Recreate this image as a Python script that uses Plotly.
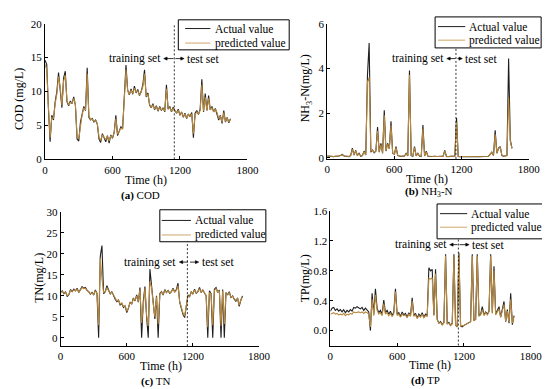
import plotly.graph_objects as go

W, H = 550, 389

hours = list(range(0, 1651, 15))
SPLIT_HOUR = 1150

cod_actual = [
    14.6, 14.0, 7.5, 2.6, 6.5, 5.8, 8.5, 10.0, 12.8, 10.5,
    7.6, 12.0, 13.0, 8.5, 7.9, 8.6, 8.2, 9.2, 8.0, 3.0,
    2.7, 5.5, 6.8, 7.8, 7.2, 13.5, 6.2, 5.8, 6.0, 5.5,
    5.8, 5.2, 3.0, 2.5, 3.8, 3.2, 2.6, 3.5, 2.4, 3.6,
    3.1, 4.0, 6.5, 3.5, 4.2, 4.8, 4.5, 10.0, 13.9, 10.2,
    9.5, 10.4, 9.6, 10.8, 9.8, 10.3, 9.4, 10.0, 11.0, 13.2,
    9.2, 9.8, 8.0, 7.6, 8.2, 7.3, 7.9, 7.1, 7.8, 7.2,
    7.6, 7.0, 11.0, 7.4, 7.8, 7.0, 7.7, 7.2, 6.8, 7.4,
    6.5, 7.0, 6.2, 6.8, 6.0, 6.7, 6.3, 6.9, 3.2, 6.8,
    7.2, 6.6, 7.4, 11.8, 7.0, 9.7, 7.2, 9.4, 7.3, 7.8,
    7.0, 7.5, 6.8, 5.8, 6.5, 5.3, 7.2, 5.5, 6.2, 5.4,
    6.0,
]
cod_pred = [
    14.0, 13.2, 7.8, 3.2, 6.2, 6.0, 8.2, 9.6, 12.2, 10.6,
    8.0, 11.5, 12.4, 8.7, 8.0, 8.4, 8.3, 9.0, 8.1, 3.4,
    3.0, 5.3, 6.6, 7.6, 7.3, 12.6, 6.4, 5.9, 5.9, 5.6,
    5.7, 5.3, 3.3, 2.8, 3.6, 3.3, 2.9, 3.4, 2.7, 3.5,
    3.2, 3.9, 6.0, 3.7, 4.1, 4.6, 4.5, 9.5, 13.2, 10.1,
    9.6, 10.2, 9.7, 10.5, 9.9, 10.1, 9.5, 9.9, 10.7, 12.6,
    9.3, 9.6, 8.1, 7.7, 8.0, 7.4, 7.8, 7.2, 7.6, 7.3,
    7.5, 7.1, 10.4, 7.5, 7.6, 7.1, 7.5, 7.2, 6.9, 7.2,
    6.6, 6.9, 6.3, 6.7, 6.1, 6.6, 6.3, 6.7, 3.8, 6.6,
    7.0, 6.7, 7.2, 11.0, 7.1, 9.2, 7.2, 9.0, 7.3, 7.6,
    7.0, 7.4, 6.9, 6.0, 6.4, 5.5, 6.9, 5.6, 6.1, 5.5,
    5.9,
]

nh3_actual = [
    0.08, 0.07, 0.06, 0.07, 0.05, 0.07, 0.06, 0.08, 0.10, 0.15,
    0.08, 0.06, 0.07, 0.05, 0.10, 0.43, 0.12, 0.33, 0.10, 0.20,
    0.07, 0.10, 0.30, 0.12, 3.69, 5.13, 0.25, 0.35, 0.22, 0.30,
    1.37, 0.25, 0.65, 0.20, 2.13, 0.30, 0.65, 0.40, 1.63, 0.20,
    0.15, 0.50, 0.10, 0.07, 0.06, 0.08, 0.07, 0.20, 0.08, 3.90,
    0.10, 0.07, 0.50, 0.08, 0.20, 0.07, 0.06, 1.47, 0.08, 0.29,
    0.07, 0.06, 0.05, 0.06, 0.07, 0.05, 0.06, 0.07, 0.06, 0.07,
    0.33, 0.06, 0.05, 0.06, 0.05, 0.06, 0.08, 1.78, 0.06, 0.05,
    0.06, 0.05, 0.06, 0.05, 0.06, 0.05, 0.06, 0.05, 0.06, 0.05,
    0.06, 0.05, 0.06, 0.07, 0.06, 0.08, 0.07, 0.15, 0.25, 0.10,
    1.23, 0.20, 0.43, 0.50, 0.10, 0.07, 0.08, 0.10, 4.44, 0.80,
    0.43,
]
nh3_pred = [
    0.08, 0.07, 0.07, 0.07, 0.06, 0.07, 0.07, 0.08, 0.10, 0.13,
    0.08, 0.07, 0.07, 0.06, 0.10, 0.38, 0.13, 0.30, 0.11, 0.18,
    0.08, 0.10, 0.27, 0.13, 3.40, 3.60, 0.30, 0.33, 0.24, 0.28,
    1.20, 0.27, 0.58, 0.22, 1.90, 0.32, 0.60, 0.40, 1.45, 0.22,
    0.16, 0.45, 0.11, 0.08, 0.07, 0.08, 0.07, 0.18, 0.09, 3.70,
    0.12, 0.08, 0.45, 0.09, 0.19, 0.08, 0.07, 1.30, 0.09, 0.26,
    0.07, 0.07, 0.06, 0.06, 0.07, 0.06, 0.06, 0.07, 0.06, 0.07,
    0.30, 0.07, 0.06, 0.06, 0.06, 0.06, 0.08, 1.60, 0.07, 0.06,
    0.06, 0.06, 0.06, 0.06, 0.06, 0.06, 0.06, 0.06, 0.06, 0.06,
    0.06, 0.06, 0.06, 0.07, 0.06, 0.08, 0.07, 0.14, 0.27, 0.11,
    1.05, 0.22, 0.40, 0.48, 0.12, 0.08, 0.08, 0.10, 2.70, 0.75,
    0.40,
]

tn_actual = [
    10.8, 11.2, 10.5, 11.0, 9.8, 10.3, 11.5, 11.0, 11.6, 11.2,
    11.8, 10.8, 11.5, 12.2, 11.8, 12.0, 11.3, 11.0, 10.4, 10.8,
    10.2, 11.4, 10.6, 0.0, 19.5, 22.0, 10.5, 11.0, 12.4, 11.2,
    10.4, 11.0, 10.0, 9.2, 8.6, 9.0, 7.8, 8.2, 7.2, 7.6,
    6.0, 7.0, 8.5, 8.0, 9.5, 8.8, 10.2, 8.5, 12.0, 0.0,
    8.7, 12.2, 5.0, 0.0, 16.4, 12.5, 8.0, 4.5, 10.0, 0.0,
    10.5, 11.0, 10.2, 11.5, 10.8, 11.3, 10.6, 11.0, 11.8, 10.9,
    11.5, 13.0, 8.5, 7.0, 5.6, 4.8, 8.0, 10.2, 9.8, 11.0,
    10.4, 11.6, 10.6, 11.0, 12.0, 10.8, 11.4, 10.6, 10.0, 0.0,
    11.2, 10.5, 0.0, 11.6, 12.0, 10.8, 11.4, 0.0, 11.5, 0.0,
    10.8, 10.2, 11.0, 9.6, 10.0, 9.2, 8.7, 9.5, 7.5, 9.0,
    10.0,
]
tn_pred = [
    10.9, 11.0, 10.6, 10.9, 10.0, 10.4, 11.3, 11.0, 11.4, 11.2,
    11.6, 10.9, 11.4, 12.0, 11.7, 11.8, 11.3, 11.0, 10.5, 10.7,
    10.3, 11.2, 10.6, 3.0, 19.0, 14.0, 10.8, 11.0, 12.0, 11.2,
    10.5, 10.9, 10.1, 9.3, 8.8, 9.0, 8.0, 8.3, 7.4, 7.7,
    6.3, 7.1, 8.4, 8.1, 9.3, 8.9, 10.0, 8.6, 11.5, 3.5,
    8.8, 11.8, 5.4, 2.8, 13.5, 12.0, 8.2, 5.0, 9.8, 3.2,
    10.3, 10.9, 10.3, 11.3, 10.8, 11.2, 10.7, 11.0, 11.6, 10.9,
    11.3, 12.4, 8.7, 7.2, 5.9, 5.2, 8.2, 10.0, 9.9, 10.9,
    10.5, 11.4, 10.7, 11.0, 11.7, 10.9, 11.3, 10.7, 10.1, 2.5,
    10.8, 10.5, 3.0, 11.3, 11.7, 10.9, 11.2, 2.8, 11.2, 3.3,
    10.6, 10.3, 10.8, 9.7, 9.9, 9.3, 8.9, 9.4, 7.8, 9.0,
    9.8,
]

tp_actual = [
    0.26, 0.30, 0.31, 0.27, 0.29, 0.26, 0.28, 0.25, 0.28, 0.24,
    0.27, 0.25, 0.28, 0.26, 0.31, 0.30, 0.32, 0.31, 0.29, 0.31,
    0.27, 0.30, 0.28, 0.25, 0.00, 0.50, 0.22, 0.56, 0.30, 0.24,
    0.27, 0.22, 0.41, 0.24, 0.27, 0.22, 0.26, 0.20, 0.25, 0.56,
    0.22, 0.24, 0.19, 0.25, 0.21, 0.23, 0.18, 0.24, 0.20, 0.44,
    0.20, 0.23, 0.17, 0.22, 0.19, 0.24, 0.18, 0.22, 0.20, 0.84,
    0.80, 0.82, 0.21, 0.82, 0.15, 0.10, 0.12, 0.08, 0.11, 1.02,
    0.09, 0.11, 0.07, 0.10, 1.02, 0.07, 0.05, 1.04, 0.06, 0.05,
    0.07, 0.08, 0.09, 0.11, 0.12, 1.02, 0.14, 0.15, 1.02, 0.20,
    0.22, 0.32, 0.21, 0.25, 0.22, 0.26, 1.02, 0.24, 0.86, 0.22,
    0.28, 0.32, 0.18, 0.30, 0.39, 0.12, 0.28, 0.10, 0.50, 0.08,
    0.20,
]
tp_pred = [
    0.22, 0.23, 0.24, 0.22, 0.23, 0.21, 0.22, 0.21, 0.23, 0.20,
    0.22, 0.21, 0.23, 0.22, 0.25, 0.24, 0.25, 0.25, 0.24, 0.25,
    0.23, 0.25, 0.24, 0.22, 0.05, 0.42, 0.20, 0.48, 0.27, 0.22,
    0.24, 0.20, 0.36, 0.22, 0.24, 0.20, 0.23, 0.19, 0.22, 0.52,
    0.20, 0.22, 0.18, 0.22, 0.20, 0.21, 0.17, 0.22, 0.19, 0.40,
    0.19, 0.21, 0.16, 0.20, 0.18, 0.22, 0.17, 0.20, 0.19, 0.70,
    0.69, 0.71, 0.20, 0.76, 0.14, 0.10, 0.11, 0.08, 0.10, 1.00,
    0.09, 0.10, 0.07, 0.09, 1.00, 0.07, 0.05, 1.02, 0.06, 0.06,
    0.07, 0.08, 0.09, 0.10, 0.12, 1.00, 0.13, 0.15, 1.00, 0.19,
    0.21, 0.28, 0.20, 0.24, 0.21, 0.25, 1.00, 0.23, 0.80, 0.21,
    0.26, 0.29, 0.18, 0.27, 0.35, 0.13, 0.26, 0.11, 0.42, 0.10,
    0.19,
]

x_ticks = [0, 600, 1200, 1800]
legend_names = ["Actual value", "predicted value"]

# ---------------- style ----------------
FONT = "Liberation Serif"
C_ACT = "#1e1e1e"
C_PRED = "#b8893f"
C_PRED_LEGEND = "#cfa66a"
LW = 1.1


def px(x):
    return x / W


def py(y):
    return 1 - y / H


panels = [
    dict(x0=35, x1=243, yb=150, yt=10, yr=[0, 20], yt_vals=[0, 5, 10, 15, 20], fmt="d",
         act=cod_actual, pred=cod_pred,
         ytitle="COD (mg/L)", ytx=9, yty=88,
         xtx=139, xty=171, cap="<b>(a)</b> COD", capx=133, capy=187,
         leg=(172, 286, 6, 37, 179, 205, 208, 15, 30),
         split=(156, 168, 179, 46)),
    dict(x0=325, x1=532.3, yb=149.5, yt=10, yr=[-0.05, 6], yt_vals=[0, 2, 4, 6], fmt="d",
         act=nh3_actual, pred=nh3_pred,
         ytitle="NH<sub>3</sub>-N(mg/L)", ytx=303, yty=77,
         xtx=428, xty=170, cap="<b>(b)</b> NH<sub>3</sub>-N", capx=430, capy=184,
         leg=(436, 545, 3, 35, 439, 467, 469, 13, 27),
         split=(447, 458, 465, 46)),
    dict(x0=51, x1=255, yb=342.7, yt=204.3, yr=[-2, 30], yt_vals=[0, 5, 10, 15, 20, 25, 30], fmt="d",
         act=tn_actual, pred=tn_pred,
         ytitle="TN(mg/L)", ytx=28, yty=272,
         xtx=154, xty=363, cap="<b>(c)</b> TN", capx=149, capy=379,
         leg=(153, 262, 202, 235, 155, 185, 187, 213, 228),
         split=(172, 183, 194, 256)),
    dict(x0=328.3, x1=534.3, yb=342.1, yt=203.3, yr=[-0.2, 1.6], yt_vals=[0, 0.4, 0.8, 1.2, 1.6], fmt=".1f",
         act=tp_actual, pred=tp_pred,
         ytitle="TP(mg/L)", ytx=302, yty=273,
         xtx=431, xty=362, cap="<b>(d)</b> TP", capx=426, capy=378,
         leg=(438, 547, 196, 232, 441, 469, 471, 206, 220),
         split=(450, 460, 472, 238)),
]

fig = go.Figure()
shapes = []
annotations = []
layout_axes = {}


def arrow(shapes, tail_x, tip_x, y):
    """small horizontal arrow in pixel coordinates"""
    d = 1 if tip_x > tail_x else -1
    shapes.append(dict(type="line", xref="paper", yref="paper", x0=px(tail_x), x1=px(tip_x - d * 2),
                       y0=py(y), y1=py(y), line=dict(color="black", width=0.8)))
    path = (f"M {px(tip_x)},{py(y)} L {px(tip_x - d * 3.5)},{py(y - 1.6)} "
            f"L {px(tip_x - d * 3.5)},{py(y + 1.6)} Z")
    shapes.append(dict(type="path", xref="paper", yref="paper", path=path,
                       fillcolor="black", line=dict(color="black", width=0.5)))


for k, p in enumerate(panels, start=1):
    xa = "x" if k == 1 else f"x{k}"
    ya = "y" if k == 1 else f"y{k}"
    fig.add_trace(go.Scatter(x=hours, y=p["act"], mode="lines", xaxis=xa, yaxis=ya,
                             line=dict(color=C_ACT, width=LW), showlegend=False, name=legend_names[0]))
    fig.add_trace(go.Scatter(x=hours, y=p["pred"], mode="lines", xaxis=xa, yaxis=ya,
                             line=dict(color=C_PRED, width=LW), showlegend=False, name=legend_names[1]))

    xkey = "xaxis" if k == 1 else f"xaxis{k}"
    ykey = "yaxis" if k == 1 else f"yaxis{k}"
    layout_axes[xkey] = dict(domain=[px(p["x0"]), px(p["x1"])], anchor=ya, range=[0, 1800],
                             tickvals=x_ticks, showline=True, linecolor="black", linewidth=1,
                             ticks="inside", ticklen=3, tickcolor="black", showgrid=False,
                             zeroline=False, tickfont=dict(family=FONT, size=11, color="black"))
    layout_axes[ykey] = dict(domain=[py(p["yb"]), py(p["yt"])], anchor=xa, range=p["yr"],
                             tickvals=p["yt_vals"], tickformat=p["fmt"], showline=True,
                             linecolor="black", linewidth=1, ticks="inside", ticklen=3,
                             tickcolor="black", showgrid=False, zeroline=False,
                             tickfont=dict(family=FONT, size=11, color="black"))

    shapes.append(dict(type="line", xref=xa, yref=f"{ya} domain", x0=SPLIT_HOUR, x1=SPLIT_HOUR,
                       y0=0, y1=1, line=dict(color="black", width=0.8, dash="2px,2px")))

    annotations.append(dict(text=p["ytitle"], x=px(p["ytx"]), y=py(p["yty"]), xref="paper", yref="paper",
                            textangle=-90, showarrow=False, xanchor="center", yanchor="middle",
                            font=dict(family=FONT, size=12, color="black")))
    annotations.append(dict(text="Time (h)", x=px(p["xtx"]), y=py(p["xty"]), xref="paper", yref="paper",
                            showarrow=False, xanchor="center", yanchor="middle",
                            font=dict(family=FONT, size=12, color="black")))
    annotations.append(dict(text=p["cap"], x=px(p["capx"]), y=py(p["capy"]), xref="paper", yref="paper",
                            showarrow=False, xanchor="center", yanchor="middle",
                            font=dict(family=FONT, size=11, color="black")))

    tr_end, dash_x, te_start, yy = p["split"]
    annotations.append(dict(text="training set", x=px(tr_end), y=py(yy), xref="paper", yref="paper",
                            showarrow=False, xanchor="right", yanchor="middle",
                            font=dict(family=FONT, size=11.5, color="black")))
    annotations.append(dict(text="test set", x=px(te_start), y=py(yy), xref="paper", yref="paper",
                            showarrow=False, xanchor="left", yanchor="middle",
                            font=dict(family=FONT, size=11.5, color="black")))
    arrow(shapes, dash_x - 1, tr_end + 1, yy)
    arrow(shapes, dash_x + 1, te_start - 1, yy)

    bx0, bx1, by0, by1, lx0, lx1, tx, r1, r2 = p["leg"]
    shapes.append(dict(type="rect", xref="paper", yref="paper", x0=px(bx0), x1=px(bx1),
                       y0=py(by1), y1=py(by0), line=dict(color="black", width=1), fillcolor="white"))
    for row_y, col, name in ((r1, C_ACT, legend_names[0]), (r2, C_PRED_LEGEND, legend_names[1])):
        shapes.append(dict(type="line", xref="paper", yref="paper", x0=px(lx0), x1=px(lx1),
                           y0=py(row_y), y1=py(row_y), line=dict(color=col, width=1)))
        annotations.append(dict(text=name, x=px(tx), y=py(row_y), xref="paper", yref="paper",
                                showarrow=False, xanchor="left", yanchor="middle",
                                font=dict(family=FONT, size=11.5, color="black")))

fig.update_layout(
    width=W, height=H, margin=dict(l=0, r=0, t=0, b=0),
    paper_bgcolor="white", plot_bgcolor="white", showlegend=False,
    shapes=shapes, annotations=annotations, **layout_axes,
)

fig.write_html("out.html")
